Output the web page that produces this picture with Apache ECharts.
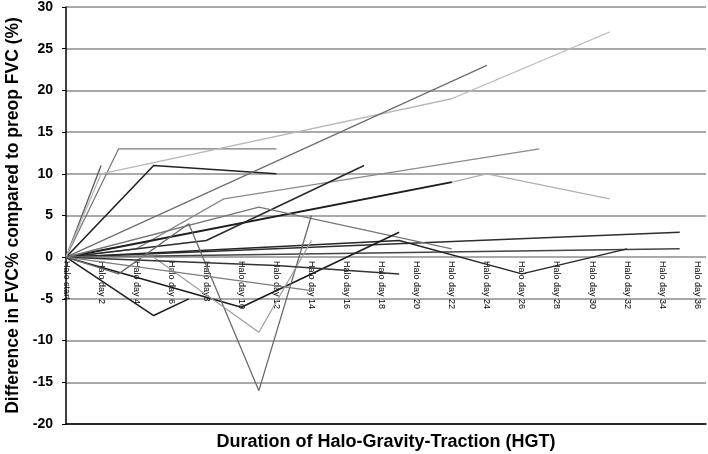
<!DOCTYPE html>
<html>
<head>
<meta charset="utf-8">
<script src="https://cdn.jsdelivr.net/npm/echarts@6/dist/echarts.min.js"></script>
<style>
html,body{margin:0;padding:0;background:#fff;}
#chart{width:708px;height:454px;}
</style>
</head>
<body>
<div id="chart"></div>
<script>
// Tick labels along the x axis (one per 2 days)
var categories = ['Halo start','Halo day 2','Halo day 4','Halo day 6','Halo day8','Halo day 10','Halo day 12','Halo day 14','Halo day 16','Halo day 18','Halo day 20','Halo day 22','Halo day 24','Halo day 26','Halo day 28','Halo day 30','Halo day 32','Halo day 34','Halo day 36'];
var yTicks = [-20,-15,-10,-5,0,5,10,15,20,25,30];

// Each patient: [day of HGT, difference in FVC% vs preop]
var p1  = [[0,0],[3,13],[12,13]];
var p2  = [[0,0],[5,11],[12,10]];
var p3  = [[0,0],[2,11]];
var p4  = [[0,0],[2,10],[22,19],[31,27]];
var p5  = [[0,0],[24,23]];
var p6  = [[0,0],[4,1],[9,7],[27,13]];
var p7  = [[0,0],[22,9],[24,10],[31,7]];
var p8  = [[0,0],[22,9]];
var p9  = [[0,0],[8,2],[17,11]];
var p10 = [[0,0],[35,3]];
var p11 = [[0,0],[35,1]];
var p12 = [[0,0],[19,2],[26,-2],[32,1]];
var p13 = [[0,0],[11,6],[22,1]];
var p14 = [[0,0],[10,-6],[19,3]];
var p15 = [[0,0],[5,-7],[7,-5]];
var p16 = [[0,0],[3,-2],[7,4],[11,-16],[14,5]];
var p17 = [[0,0],[5,0],[11,-9],[14,2]];
var p18 = [[0,0],[12,-1],[19,-2]];
var p19 = [[0,0],[14,-4]];

var patients = [p1,p2,p3,p4,p5,p6,p7,p8,p9,p10,p11,p12,p13,p14,p15,p16,p17,p18,p19];
var colors = ['#7a7a7a','#222222','#5a5a5a','#b8b8b8','#6e6e6e','#8a8a8a','#b0b0b0','#1e1e1e','#2a2a2a','#2e2e2e','#444444','#262626','#777777','#1c1c1c','#202020','#6a6a6a','#a0a0a0','#333333','#7c7c7c'];
var widths = [1.3,1.6,1.3,1.3,1.3,1.3,1.3,2,1.5,1.6,1.5,1.5,1.4,1.6,1.6,1.3,1.3,1.5,1.3];

var series = patients.map(function(p, i){
  return {
    type:'line', data:p, xAxisIndex:0, yAxisIndex:0,
    symbol:'none', silent:true,
    lineStyle:{color:colors[i], width:widths[i]},
    z: 3
  };
});

var chart = echarts.init(document.getElementById('chart'), null, {renderer:'canvas'});
chart.setOption({
  animation:false,
  backgroundColor:'#fff',
  grid:{left:66, right:2, top:7, bottom:30, containLabel:false, outerBoundsMode:'none'},
  xAxis:[{
    type:'value', min:0, max:36.5, position:'bottom',
    axisLine:{show:true, onZero:false, lineStyle:{color:'#000', width:1.5}},
    axisTick:{show:false}, axisLabel:{show:false}, splitLine:{show:false},
    name:'Duration of Halo-Gravity-Traction (HGT)', nameLocation:'middle', nameGap:9,
    nameTextStyle:{fontFamily:'Liberation Sans, Arial', fontWeight:'bold', fontSize:18, color:'#000'}
  },{
    type:'value', min:0, max:36.5, interval:2, position:'bottom',
    axisLine:{show:false, onZero:false},
    axisTick:{show:false}, splitLine:{show:false},
    axisLabel:{
      show:true, rotate:-90, margin:-163, fontSize:9, color:'#000',
      fontFamily:'Liberation Sans, Arial',
      hideOverlap:false,
      formatter:function(v){
        if (Math.abs(v % 2) > 1e-6) return '';
        var i = Math.round(v/2);
        return categories[i] || '';
      }
    }
  }],
  yAxis:{
    type:'value', min:yTicks[0], max:yTicks[yTicks.length-1], interval:5,
    axisLine:{show:true, lineStyle:{color:'#000', width:1.5}},
    axisTick:{show:true, inside:false, length:4, lineStyle:{color:'#000'}},
    axisLabel:{fontFamily:'Liberation Sans, Arial', fontWeight:'bold', fontSize:14, color:'#000', margin:13},
    splitLine:{show:true, lineStyle:{color:'#8c8c8c', width:1.5}},
    name:'Difference in FVC% compared to preop FVC (%)', nameLocation:'middle', nameGap:39,
    nameTextStyle:{fontFamily:'Liberation Sans, Arial', fontWeight:'bold', fontSize:17.5, color:'#000'}
  },
  series:series
});
</script>
</body>
</html>
